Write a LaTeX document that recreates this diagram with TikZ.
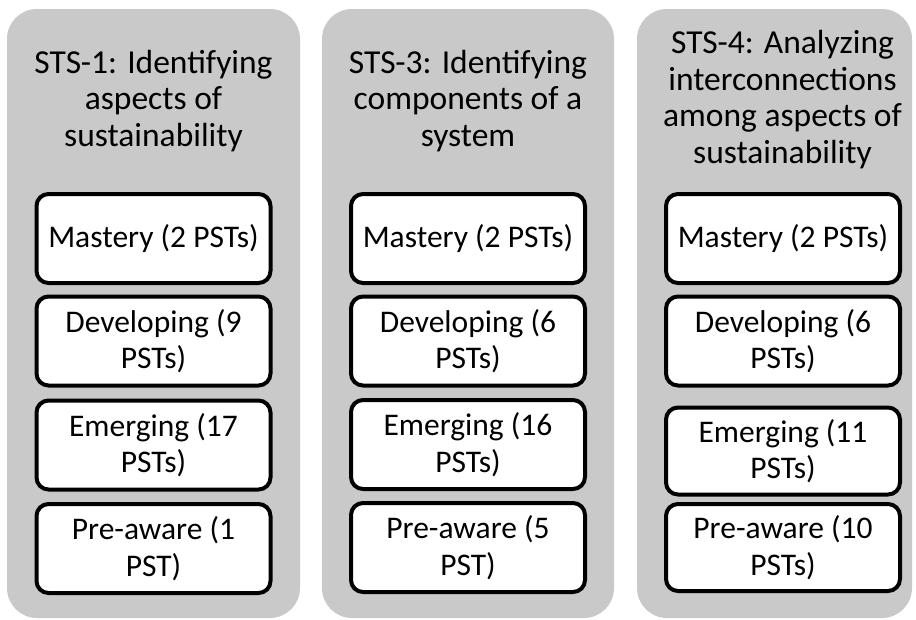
\documentclass[tikz,border=0pt]{standalone}
\usepackage{fontspec}
\setmainfont{Carlito}
\definecolor{colgray}{RGB}{201,201,201}
\begin{document}
\begin{tikzpicture}[x=1pt,y=-1pt,
  column/.style={fill=colgray, rounded corners=30pt, inner sep=0pt, minimum height=609pt},
  lvl/.style={draw=black, line width=4pt, fill=white, rounded corners=12pt,
    minimum width=234pt, minimum height=89pt, inner sep=0pt, align=center,
    font=\fontsize{31.5}{36.6}\selectfont},
  ttl/.style={align=center, inner sep=0pt, anchor=base, font=\fontsize{33.5}{36.6}\selectfont}]
\useasboundingbox (0,0) rectangle (916,619);
% columns
\node[column, minimum width=293pt] (col1) at (153.5,313.5) {};
\node[column, minimum width=292pt] (col2) at (468,313.5) {};
\node[column, minimum width=275pt] (col3) at (774.5,313.5) {};
% titles (base anchor = baseline of the last line)
\node[ttl] (t1) at (153.5,146.5) {STS-1: Identifying\\aspects of\\sustainability};
\node[ttl] (t2) at (468,146.5) {STS-3: Identifying\\components of a\\system};
\node[ttl] (t3) at (782.5,163.5) {STS-4: Analyzing\\interconnections\\among aspects of\\sustainability};
% column 1
\node[lvl] (m1) at (153.5,238.5) {Mastery (2 PSTs)};
\node[lvl] (d1) at (153.5,341) {Developing (9\\PSTs)};
\node[lvl] (e1) at (153.5,445) {Emerging (17\\PSTs)};
\node[lvl] (p1) at (153.5,548.5) {Pre-aware (1\\PST)};
% column 2
\node[lvl] (m2) at (468,238.5) {Mastery (2 PSTs)};
\node[lvl] (d2) at (468,341) {Developing (6\\PSTs)};
\node[lvl] (e2) at (468,444.5) {Emerging (16\\PSTs)};
\node[lvl] (p2) at (468,547.5) {Pre-aware (5\\PST)};
% column 3
\node[lvl] (m3) at (783,238.5) {Mastery (2 PSTs)};
\node[lvl] (d3) at (783,341) {Developing (6\\PSTs)};
\node[lvl, minimum height=87pt] (e3) at (783,451) {Emerging (11\\PSTs)};
\node[lvl, minimum height=87pt] (p3) at (783,547.5) {Pre-aware (10\\PSTs)};
\end{tikzpicture}
\end{document}
